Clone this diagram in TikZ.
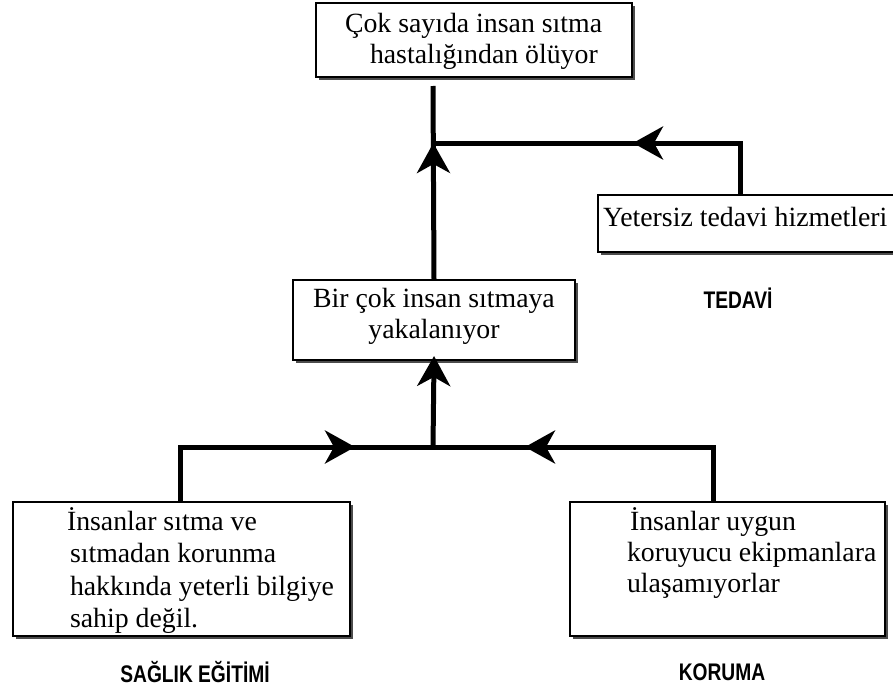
\documentclass[tikz,border=0pt]{standalone}
\usepackage{fontspec}
\setmainfont{Liberation Serif}
\newfontfamily\headfont{Liberation Sans}[FakeStretch=0.8]
\usetikzlibrary{arrows.meta,decorations.markings,shadows}

% fixed-size text block: width, height, first baseline from the top, content
\newcommand{\boxlines}[4]{\parbox[t][#2][t]{#1}{\raggedright\rule{0pt}{#3}#4}}

\tikzset{
  box/.style={draw, line width=1.6pt, fill=white, inner sep=0pt, outer sep=0pt,
    anchor=north west,
    drop shadow={shadow xshift=3pt, shadow yshift=-3pt, fill=black!70, opacity=1}},
  conn/.style={line width=5pt},
  tipat/.style={postaction={decorate, decoration={markings,
    mark=at position #1 with {\arrow{Stealth[length=30pt,width=33pt,inset=9pt]}}}}},
  group/.style={font=\headfont\bfseries\fontsize{24}{26}\selectfont}
}

\begin{document}
\begin{tikzpicture}[x=1pt, y=-1pt]
\useasboundingbox (0,0) rectangle (893,690);

% problem boxes
\node[box] (top) at (316,3) {\boxlines{316pt}{74pt}{30pt}{%
  \fontsize{27.8}{31}\selectfont\leftskip=29pt
  Çok sayıda insan sıtma\\\hspace*{25pt}hastalığından ölüyor}};

\node[box] (yet) at (598,195) {\boxlines{310pt}{57pt}{31pt}{%
  \fontsize{27.8}{31}\selectfont\leftskip=5pt
  Yetersiz tedavi hizmetleri}};

\node[box] (mid) at (293,280) {\boxlines{282pt}{80pt}{27pt}{%
  \fontsize{27.8}{31}\selectfont\centering
  Bir çok insan sıtmaya\\yakalanıyor}};

\node[box] (left) at (13,502) {\boxlines{337pt}{134pt}{28pt}{%
  \fontsize{27.8}{32.5}\selectfont\leftskip=54pt
  İnsanlar sıtma ve\\\hspace*{3pt}sıtmadan korunma\\\hspace*{3pt}hakkında yeterli bilgiye\\\hspace*{3pt}sahip değil.}};

\node[box] (right) at (570,502) {\boxlines{315pt}{134pt}{28pt}{%
  \fontsize{27.8}{31}\selectfont\leftskip=57pt
  \hspace*{3pt}İnsanlar uygun\\koruyucu ekipmanlara\\ulaşamıyorlar}};

% group labels
\node[group] (tedavi) at (738,298) {TEDAVİ};
\node[group] (saglik) at (195,672) {SAĞLIK EĞİTİMİ};
\node[group] (koruma) at (722,672) {KORUMA};

% junctions and bends
\coordinate (jTop) at (433,143);
\coordinate (tTop) at (433,86);
\coordinate (bR)   at (740,143);
\coordinate (jLow) at (433,447);
\coordinate (bL)   at (180,447);
\coordinate (bR2)  at (713,447);

% connectors
\draw[conn, tipat=159pt] (yet.north -| bR) |- (jTop);
\draw[conn, tipat=137pt] (mid.north) -- (tTop);
\draw[conn, -{Stealth[length=30pt,width=33pt,inset=9pt]}, shorten >=-4pt] (jLow) -- (mid.south);
\draw[conn, tipat=230pt] (left.north -| bL) |- (jLow);
\draw[conn, tipat=243pt] (right.north -| bR2) |- (jLow);
\end{tikzpicture}
\end{document}
